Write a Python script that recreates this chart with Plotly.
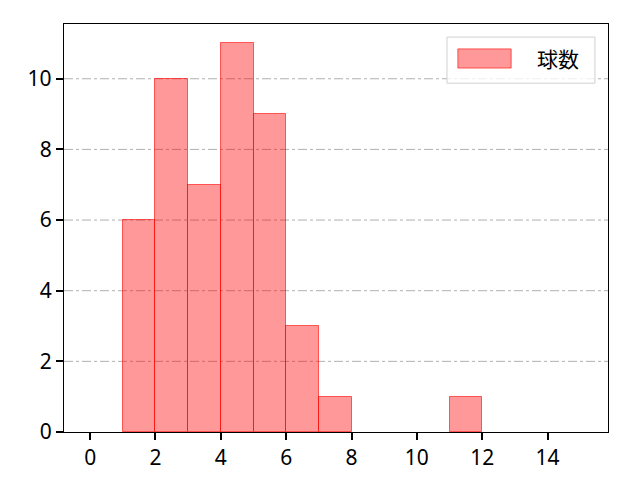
import plotly.graph_objects as go

# histogram counts per 1-wide bin (left edges)
bin_left = [1, 2, 3, 4, 5, 6, 7, 11]
counts = [6, 10, 7, 11, 9, 3, 1, 1]
x_ticks = [0, 2, 4, 6, 8, 10, 12, 14]
y_ticks = [0, 2, 4, 6, 8, 10]
series_name = "球数"

bar_fill = "rgba(255,0,0,0.4)"
bar_edge = "rgba(255,0,0,0.6)"

fig = go.Figure()

fig.add_trace(go.Bar(
    x=[b + 0.5 for b in bin_left],
    y=counts,
    width=1,
    name=series_name,
    showlegend=False,
    marker=dict(color=bar_fill, line=dict(color=bar_edge, width=1)),
))

# dash-dot grid lines
for yv in y_ticks[1:]:
    fig.add_shape(type="line", xref="paper", x0=0, x1=1, y0=yv, y1=yv,
                  line=dict(color="#b0b0b0", width=1, dash="dashdot"), layer="below")

# legend drawn by hand (matplotlib-like box with big swatch)
fig.add_shape(type="rect", xref="paper", yref="paper", x0=0.704, x1=0.976, y0=0.855, y1=0.968,
              line=dict(color="#d0d0d0", width=1), fillcolor="rgba(255,255,255,0.8)")
fig.add_shape(type="rect", xref="paper", yref="paper", x0=0.724, x1=0.822, y0=0.892, y1=0.939,
              line=dict(color=bar_edge, width=1), fillcolor=bar_fill)
fig.add_annotation(xref="paper", yref="paper", x=0.908, y=0.917, text=series_name,
                   showarrow=False, font=dict(size=21, family="Noto Sans CJK JP"),
                   xanchor="center", yanchor="middle")

axis_style = dict(showgrid=False, zeroline=False, showline=True, linecolor="black",
                  linewidth=1.3, mirror=True, ticks="outside", ticklen=7, tickwidth=1.5,
                  tickcolor="black", tickfont=dict(family="Noto Sans", size=21))

fig.update_layout(
    width=640, height=480,
    plot_bgcolor="white", paper_bgcolor="white",
    margin=dict(l=56, r=40, t=16, b=56),
    font=dict(family="Noto Sans, Noto Sans CJK JP", size=20, color="black"),
    bargap=0,
    showlegend=False,
    xaxis=dict(range=[-0.8, 15.85], tickvals=x_ticks, **axis_style),
    yaxis=dict(range=[0, 11.55], tickvals=y_ticks, **axis_style),
)

fig.write_html("out.html")
